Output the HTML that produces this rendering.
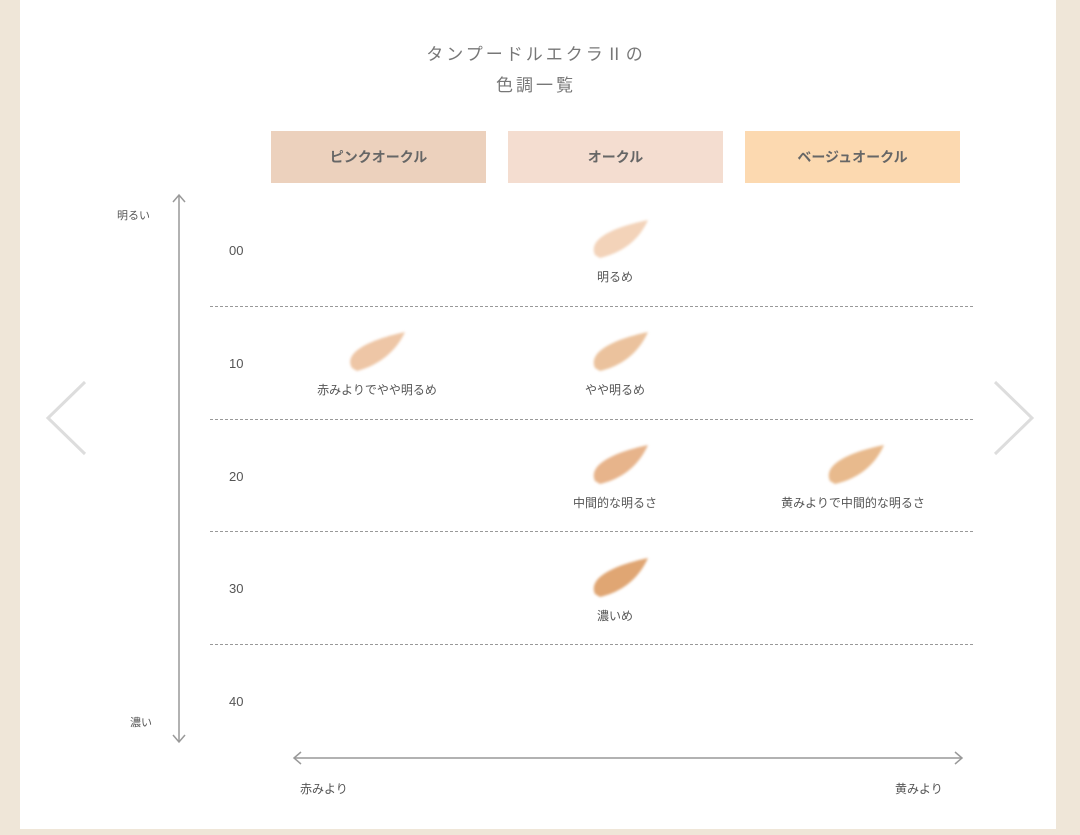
<!DOCTYPE html><html><head><meta charset="utf-8"><style>
body{margin:0;width:1080px;height:835px;background:#efe6d8;position:relative;overflow:hidden;font-family:"Liberation Sans","Noto Sans CJK JP",sans-serif;color:#555}
.p{position:absolute;left:20px;top:0;width:1036px;height:829px;background:#fff}
.t{position:absolute;font-size:13px;color:#555;white-space:nowrap}
.h{position:absolute;top:131px;height:52px;width:215px;display:flex;align-items:center;justify-content:center;font-size:14px;font-weight:bold;color:#666}
.d{position:absolute;left:210px;width:763px;border-top:1.5px dashed #999}
.c{transform:translateX(-50%)}
</style></head><body>
<div class="p"></div>
<div class="t c" style="left:536px;top:40px;font-size:17px;letter-spacing:3px;color:#777">タンプードルエクラⅡの</div>
<div class="t c" style="left:536px;top:71px;font-size:17px;letter-spacing:3px;color:#777">色調一覧</div>
<div class="h" style="left:271px;background:#ecd1bd">ピンクオークル</div>
<div class="h" style="left:508px;background:#f4ddd0">オークル</div>
<div class="h" style="left:745px;background:#fcd9b0">ベージュオークル</div>
<svg style="position:absolute;left:0;top:0" width="1080" height="835">
<g stroke="#999" stroke-width="1.5" fill="none">
<line x1="179" y1="196" x2="179" y2="741"/><polyline points="173,202 179,195 185,202"/><polyline points="173,735 179,742 185,735"/>
<line x1="294" y1="758" x2="962" y2="758"/><polyline points="301,752 294,758 301,764"/><polyline points="955,752 962,758 955,764"/>
</g>
<g stroke="#ddd" stroke-width="3" fill="none"><polyline points="85,382 48,418 85,454"/><polyline points="995,382 1032,418 995,454"/></g>
<defs><filter id="b"><feGaussianBlur stdDeviation="1.2"/></filter></defs>
<g filter="url(#b)">
<path d="M595,255 C588,240 610,228 648,220 C640,238 625,252 600,258Z" fill="#f3d3b9"/>
<path d="M352,368 C343,353 368,340 405,332 C397,350 380,365 357,371Z" fill="#eec6a6"/>
<path d="M595,368 C588,353 610,340 648,332 C640,350 625,365 600,371Z" fill="#ebc29d"/>
<path d="M595,481 C588,466 610,453 648,445 C640,463 625,478 600,484Z" fill="#e7b48b"/>
<path d="M830,481 C823,466 845,453 884,445 C876,463 861,478 835,484Z" fill="#e8ba8d"/>
<path d="M595,594 C588,579 610,566 648,558 C640,576 625,591 600,597Z" fill="#e0a673"/>
</g></svg>
<div class="d" style="top:306px"></div><div class="d" style="top:419px"></div><div class="d" style="top:531px"></div><div class="d" style="top:644px"></div>
<div class="t" style="left:117px;top:207px;font-size:11px">明るい</div>
<div class="t" style="left:130px;top:714px;font-size:11px">濃い</div>
<div class="t" style="left:229px;top:243px">00</div>
<div class="t" style="left:229px;top:356px">10</div>
<div class="t" style="left:229px;top:469px">20</div>
<div class="t" style="left:229px;top:581px">30</div>
<div class="t" style="left:229px;top:694px">40</div>
<div class="t c" style="left:615px;top:268px;font-size:12px">明るめ</div>
<div class="t c" style="left:377px;top:381px;font-size:12px">赤みよりでやや明るめ</div>
<div class="t c" style="left:615px;top:381px;font-size:12px">やや明るめ</div>
<div class="t c" style="left:615px;top:494px;font-size:12px">中間的な明るさ</div>
<div class="t c" style="left:853px;top:494px;font-size:12px">黄みよりで中間的な明るさ</div>
<div class="t c" style="left:615px;top:607px;font-size:12px">濃いめ</div>
<div class="t" style="left:300px;top:780px;font-size:12px">赤みより</div>
<div class="t" style="left:895px;top:780px;font-size:12px">黄みより</div>
</body></html>
